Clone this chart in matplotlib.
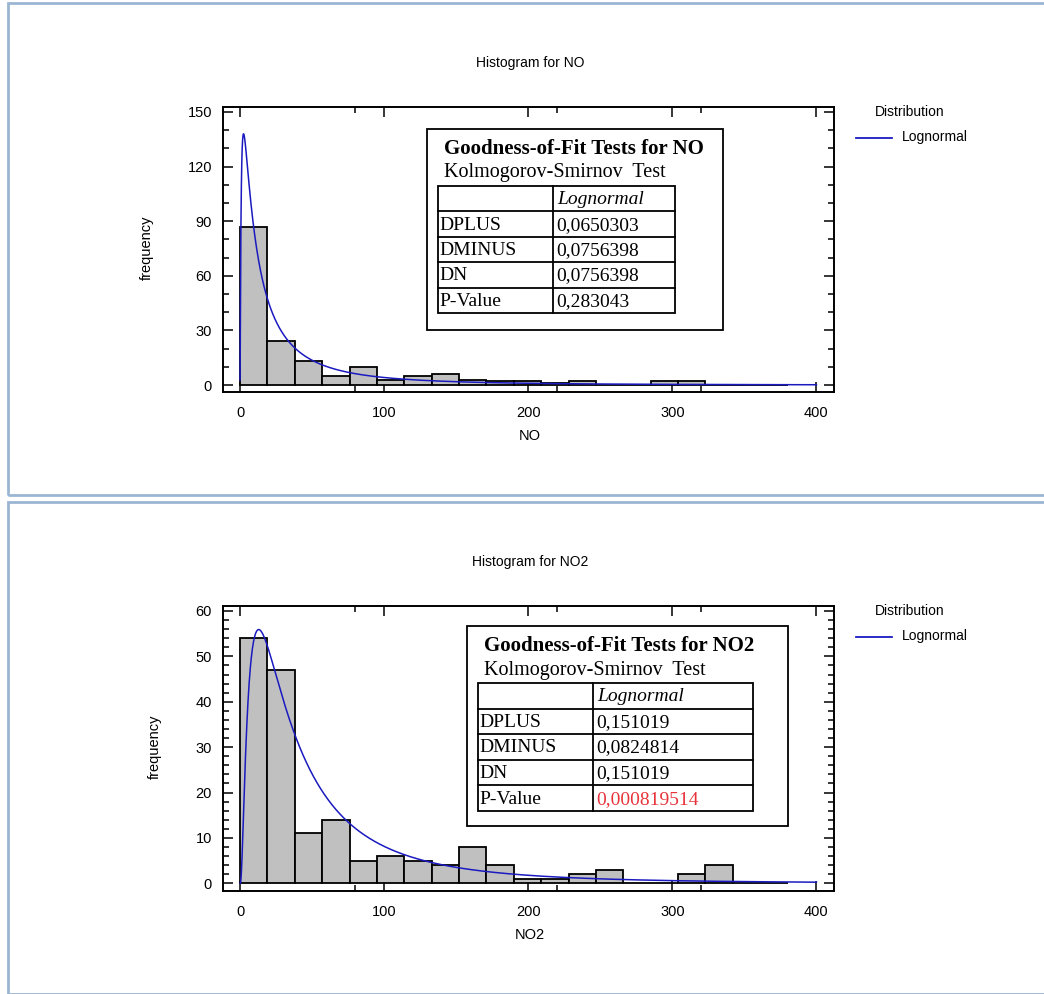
import numpy as np
import matplotlib
matplotlib.use("Agg")
import matplotlib.pyplot as plt
from matplotlib.lines import Line2D
from matplotlib.patches import Rectangle

# histogram bins (same classes for both pollutants)
bin_width = 19
bin_edges = np.arange(0, 381, bin_width)

no_counts = [87, 24, 13, 5, 10, 3, 5, 6, 3, 2, 2, 1, 2, 0, 0, 2, 2, 0, 0, 0]
no2_counts = [54, 47, 11, 14, 5, 6, 5, 4, 8, 4, 1, 1, 2, 3, 0, 0, 2, 4, 0, 0]

# fitted lognormal parameters (log-scale mean, log-scale sd)
no_fit = (2.86, 1.40)
no2_fit = (3.645, 1.04)

# Kolmogorov-Smirnov results
ks_rows = ["DPLUS", "DMINUS", "DN", "P-Value"]
no_ks = ["0,0650303", "0,0756398", "0,0756398", "0,283043"]
no2_ks = ["0,151019", "0,0824814", "0,151019", "0,000819514"]

W, H = 1044, 994
fig = plt.figure(figsize=(W / 100, H / 100), dpi=100)
fig.patch.set_facecolor("white")

SANS = "Liberation Sans"
SERIF = "Liberation Serif"
CURVE = "#1a1ac0"


def fx(x):
    return x / W


def fy(y):
    return 1 - y / H


def lognorm_pdf(x, mu, s):
    return np.exp(-(np.log(x) - mu) ** 2 / (2 * s * s)) / (x * s * np.sqrt(2 * np.pi))


def panel(top, counts, fit, name, ylim, ymajor, yminor, ks_vals, ks_colors, box, inner):
    # outer frame of the pane
    fig.patches.append(Rectangle((fx(8), fy(top + 492)), 1.2, (492) / H,
                                 transform=fig.transFigure, fill=False,
                                 edgecolor="#9ab6d2", lw=2, clip_on=False))

    ax = fig.add_axes([fx(223), fy(top + 389), (834 - 223) / W, 285 / H])
    ax.bar(bin_edges[:-1], counts, width=bin_width, align="edge",
           color="#c0c0c0", edgecolor="black", lw=1.3, zorder=2)
    xs = np.linspace(0.05, 400, 4000)
    ax.plot(xs, lognorm_pdf(xs, *fit) * sum(counts) * bin_width,
            color=CURVE, lw=1.1, zorder=3)
    ax.plot([0, 0.05], [0, 0], color=CURVE, lw=1.1, zorder=3)

    ax.set_xlim(-11.8, 412.2)
    ax.set_ylim(*ylim)
    ax.set_xticks([0, 100, 200, 300, 400])
    ax.set_xticks([80, 220, 320], minor=True)
    ax.set_yticks(ymajor)
    ax.set_yticks(yminor, minor=True)
    ax.tick_params(which="both", direction="in", top=True, right=True,
                   width=1.1, labelsize=10.5, labelfontfamily=SANS, colors="black")
    ax.tick_params(which="major", length=7)
    ax.tick_params(which="minor", length=4.5)
    ax.tick_params(axis="x", pad=10)
    ax.tick_params(axis="y", pad=8)
    for sp in ax.spines.values():
        sp.set_linewidth(1.4)

    fig.text(fx(530), fy(top + 60), "Histogram for " + name, ha="center", va="center",
             fontsize=10, family=SANS)
    fig.text(fx(530), fy(top + 433), name, ha="center", va="center",
             fontsize=10.5, family=SANS)

    # legend
    fig.text(fx(875), fy(top + 109), "Distribution", ha="left", va="center",
             fontsize=10, family=SANS)
    fig.lines.append(Line2D([fx(856), fx(892)], [fy(top + 135), fy(top + 135)],
                            transform=fig.transFigure, color=CURVE, lw=1.3))
    fig.text(fx(902), fy(top + 134), "Lognormal", ha="left", va="center",
             fontsize=10, family=SANS)

    # goodness-of-fit table
    bx0, by0, bx1, by1 = box
    fig.patches.append(Rectangle((fx(bx0), fy(by1)), (bx1 - bx0) / W, (by1 - by0) / H,
                                 transform=fig.transFigure, fill=True, facecolor="white",
                                 edgecolor="black", lw=1.3, zorder=5))
    ix0, iy0, ix1, iy1, idiv = inner
    fig.text(fx(bx0 + 17), fy(by0 + 20), "Goodness-of-Fit Tests for " + name,
             ha="left", va="center", fontsize=15, family=SERIF, weight="bold", zorder=6)
    fig.text(fx(bx0 + 17), fy(by0 + 44), "Kolmogorov-Smirnov  Test",
             ha="left", va="center", fontsize=14.5, family=SERIF, zorder=6)
    rh = (iy1 - iy0) / 5
    fig.patches.append(Rectangle((fx(ix0), fy(iy1)), (ix1 - ix0) / W, (iy1 - iy0) / H,
                                 transform=fig.transFigure, fill=False,
                                 edgecolor="black", lw=1.3, zorder=6))
    fig.lines.append(Line2D([fx(idiv), fx(idiv)], [fy(iy0), fy(iy1)],
                            transform=fig.transFigure, color="black", lw=1.3, zorder=6))
    for i in range(1, 5):
        yy = fy(iy0 + i * rh)
        fig.lines.append(Line2D([fx(ix0), fx(ix1)], [yy, yy],
                                transform=fig.transFigure, color="black", lw=1.3, zorder=6))
    fig.text(fx(idiv + 4), fy(iy0 + rh / 2 + 1), "Lognormal", ha="left", va="center",
             fontsize=14, family=SERIF, style="italic", zorder=7)
    for i, (lab, val, col) in enumerate(zip(ks_rows, ks_vals, ks_colors)):
        yc = fy(iy0 + (i + 1.5) * rh + 1)
        fig.text(fx(ix0 + 1), yc, lab, ha="left", va="center", fontsize=14,
                 family=SERIF, zorder=7)
        fig.text(fx(idiv + 3), yc, val, ha="left", va="center", fontsize=14,
                 family=SERIF, color=col, zorder=7)

    fig.text(fx(147 if name == "NO" else 155), fy(top + 245), "frequency", rotation=90,
             ha="center", va="center", fontsize=10.5, family=SANS)
    return ax


panel(3, no_counts, no_fit, "NO", (-3.8, 152.7), range(0, 151, 30), range(0, 151, 10),
      no_ks, ["black"] * 4, (427, 129, 723, 330), (438, 186, 675, 313, 553))
panel(502, no2_counts, no2_fit, "NO2", (-1.7, 61.1), range(0, 61, 10), range(0, 61, 2),
      no2_ks, ["black"] * 3 + ["#e8333a"], (467, 626, 788, 826), (478, 683, 753, 811, 593))

fig.savefig("out.png", dpi=100)
